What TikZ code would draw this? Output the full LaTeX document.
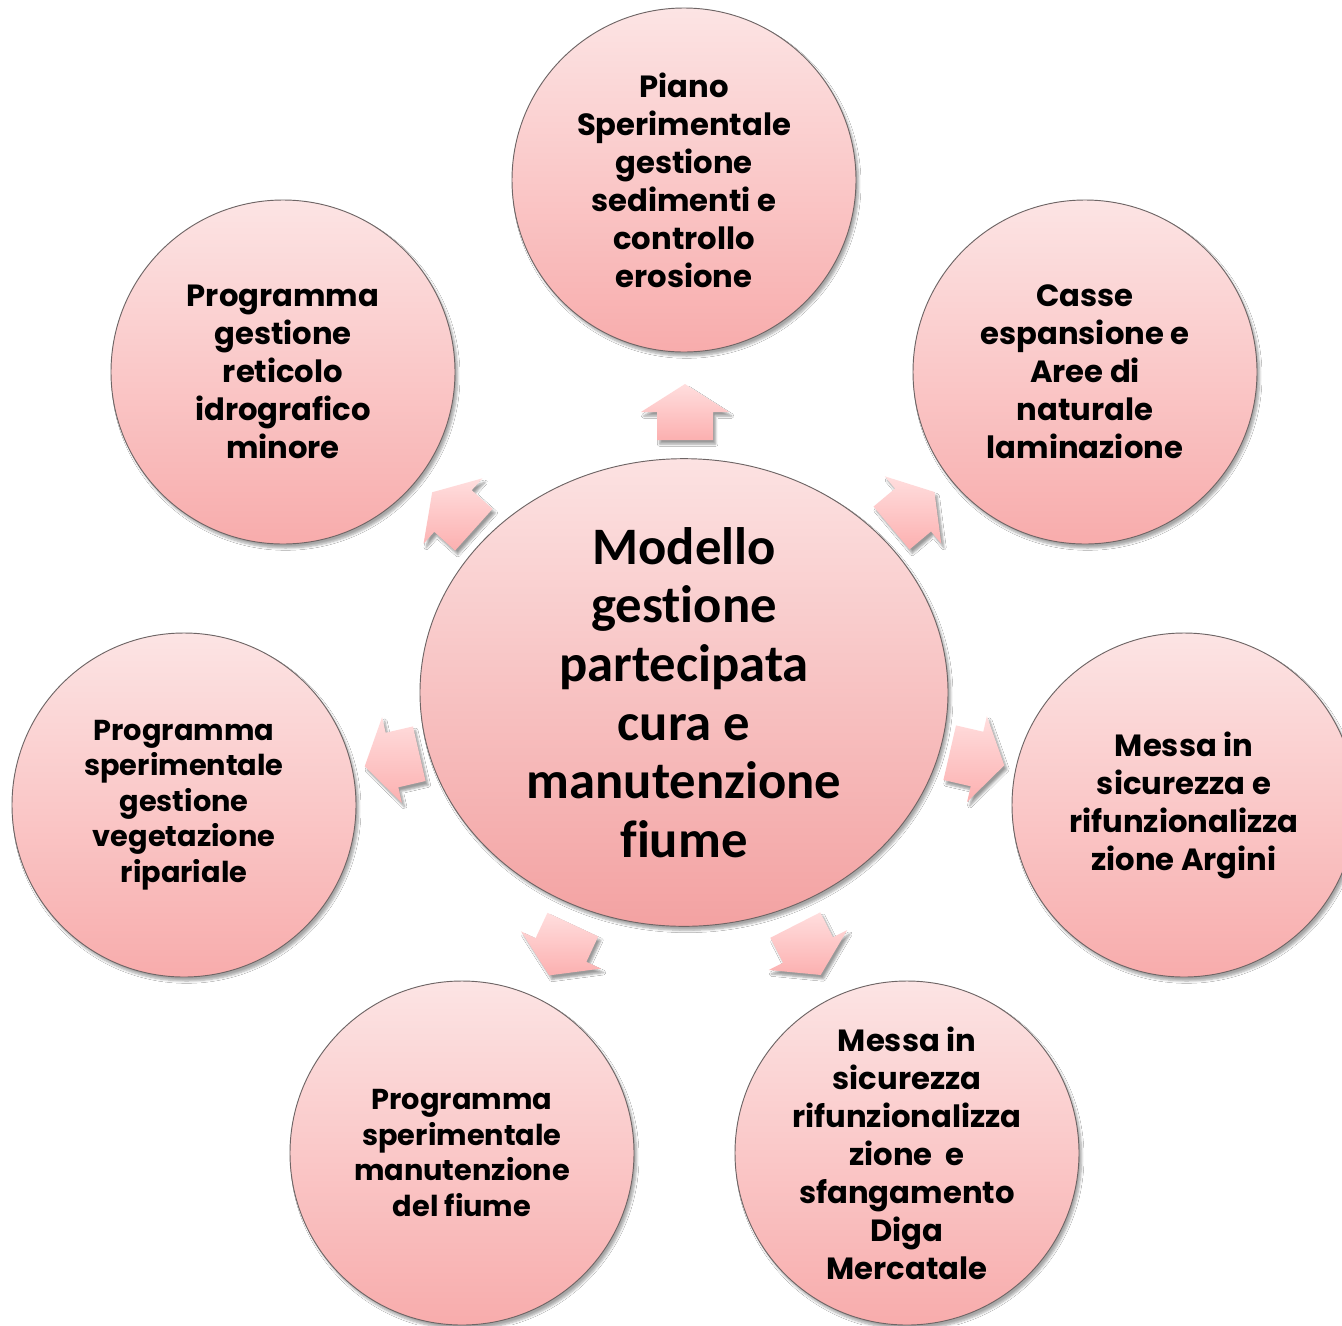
\documentclass[tikz,border=0pt]{standalone}
\usepackage{fontspec}
\newfontfamily\poppins{Poppins}[Ligatures={NoCommon}]
\newfontfamily\carlito{Carlito}[Ligatures={NoCommon}]
\usetikzlibrary{shapes.geometric,shadows.blur}
\definecolor{ctop}{HTML}{FCE4E4}
\definecolor{cbot}{HTML}{F8ACAC}
\definecolor{etop}{HTML}{FCE2E2}
\definecolor{ebot}{HTML}{F3A2A2}
\definecolor{atop}{HTML}{FFDEDE}
\definecolor{abot}{HTML}{FCB0B0}
\definecolor{rim}{HTML}{6E6565}
\tikzset{
  bubble/.style={circle, minimum size=258pt, inner sep=0pt, draw=rim, line width=0.7pt,
    top color=ctop, bottom color=cbot, align=center, text=black,
    font=\poppins\bfseries\fontsize{23}{28.5}\selectfont,
    blur shadow={shadow xshift=2pt, shadow yshift=-3pt, shadow blur steps=6, shadow opacity=35}},
  smallbubble/.style={bubble, font=\poppins\bfseries\fontsize{21.6}{26.6}\selectfont},
  hub/.style={ellipse, minimum width=396pt, minimum height=338pt, inner sep=0pt, draw=rim, line width=0.7pt,
    top color=etop, bottom color=ebot, align=center, text=black,
    font=\carlito\bfseries\fontsize{39.5}{44}\selectfont,
    blur shadow={shadow xshift=2pt, shadow yshift=-3pt, shadow blur steps=6, shadow opacity=35}},
  blockarrow/.style={top color=atop, bottom color=abot,
    blur shadow={shadow xshift=2pt, shadow yshift=-3pt, shadow blur steps=5, shadow opacity=40}}
}
\newcommand\radialarrow[3]{%
  \path[blockarrow, shift={(#1,#2)}, rotate=#3]
    (21pt,0) -- (0,33pt) -- (0,21pt) -- (-21pt,21pt) -- (-21pt,-21pt) -- (0,-21pt) -- (0,-33pt) -- cycle;}
\begin{document}
\begin{tikzpicture}[x=0.75pt, y=-0.75pt]
\useasboundingbox (0,0) rectangle (1342,1325);
\clip (0,0) rectangle (1342,1325);
\fill[white] (0,0) rectangle (1342,1325);

% arrows
\radialarrow{685}{412}{90}
\radialarrow{913}{510}{40}
\radialarrow{977}{759}{-13}
\radialarrow{808}{950}{-63}
\radialarrow{561}{950}{-115}
\radialarrow{392}{760}{193}
\radialarrow{453}{511}{138}

% centre
\node[hub] (hub) at (684,692.5) {Modello\\gestione\\partecipata\\cura e\\manutenzione\\fiume};

% outer circles
\node[bubble] (top) at (684,180) {Piano\\Sperimentale\\gestione\\sedimenti e\\controllo\\erosione};
\node[bubble] (ur) at (1085,372) {Casse\\espansione e\\Aree di\\naturale\\laminazione};
\node[bubble] (r) at (1184,805) {Messa in\\sicurezza e\\rifunzionalizza\\zione Argini};
\node[bubble] (br) at (907,1153) {Messa in\\sicurezza\\rifunzionalizza\\zione~~e\\sfangamento\\Diga\\Mercatale};
\node[smallbubble] (bl) at (462,1153) {Programma\\sperimentale\\manutenzione\\del fiume};
\node[smallbubble] (l) at (184,805) {Programma\\sperimentale\\gestione\\vegetazione\\ripariale};
\node[bubble] (ul) at (283,372) {Programma\\gestione\\reticolo\\idrografico\\minore};
\end{tikzpicture}
\end{document}
